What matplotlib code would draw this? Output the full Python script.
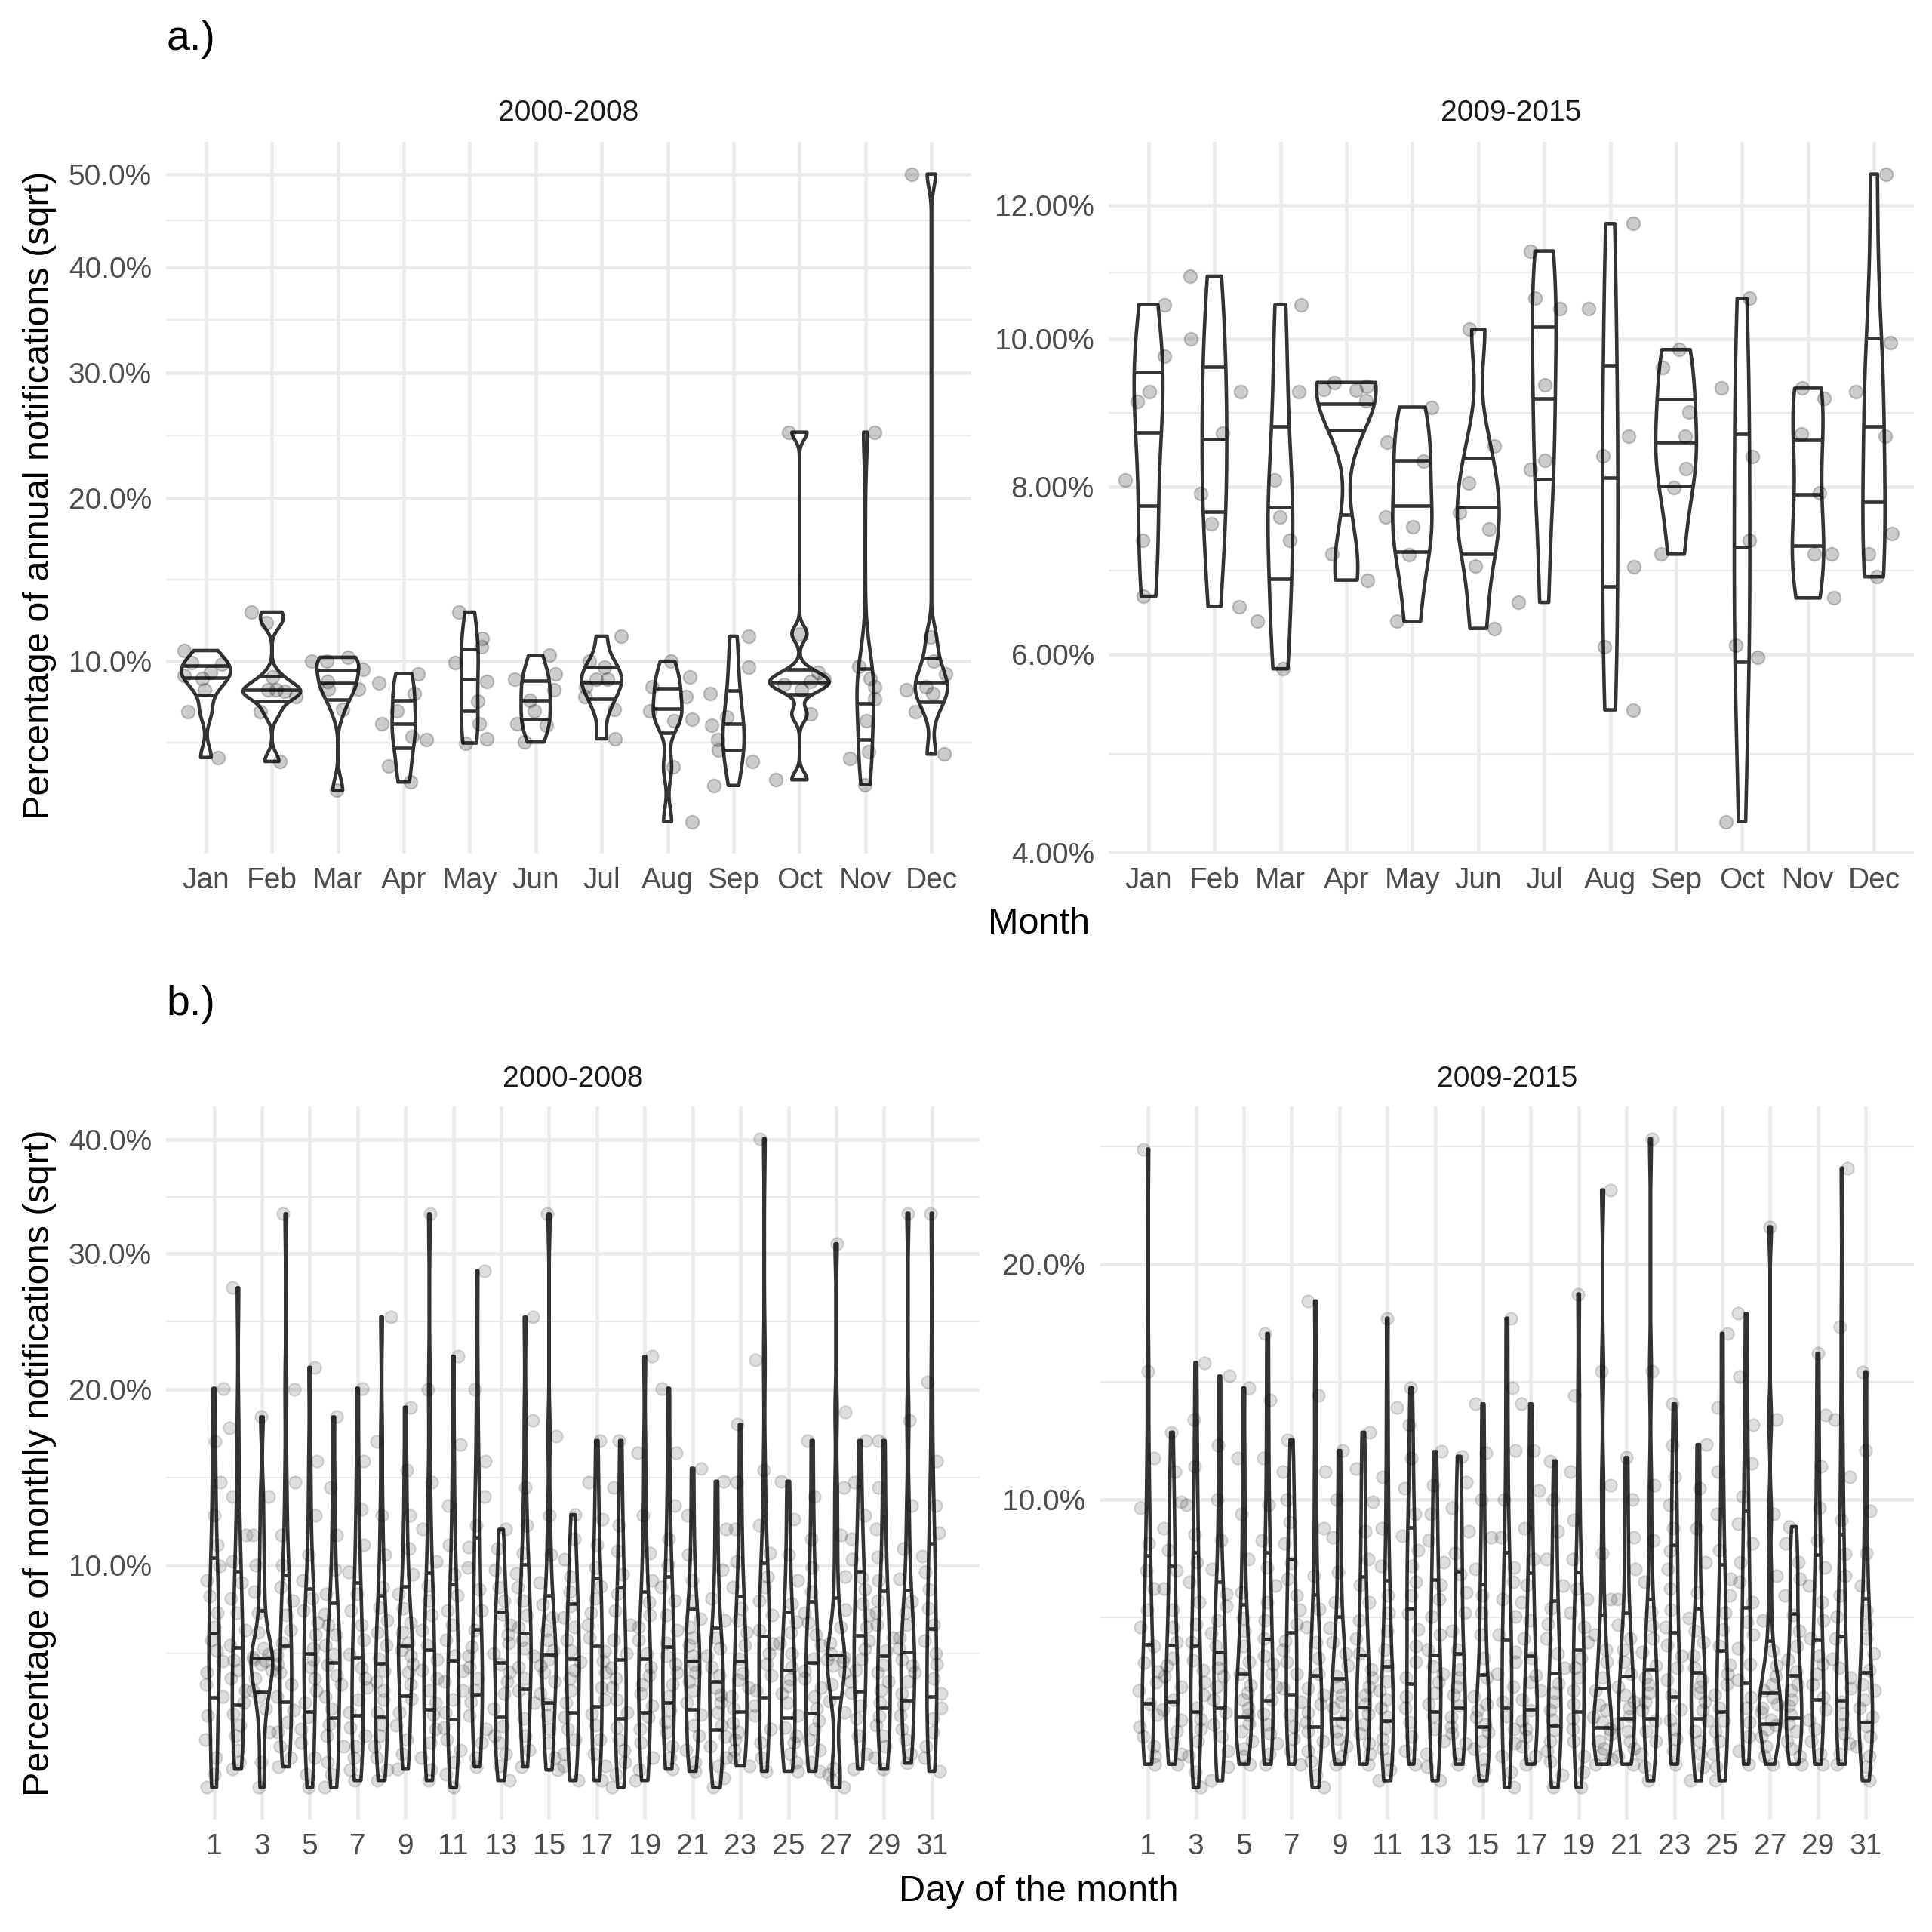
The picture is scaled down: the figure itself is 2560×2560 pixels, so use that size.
import numpy as np
import matplotlib
matplotlib.use("Agg")
import matplotlib.pyplot as plt

plt.rcParams['font.family'] = ['Liberation Sans', 'DejaVu Sans']

# ---------------- data ----------------
months = ['Jan', 'Feb', 'Mar', 'Apr', 'May', 'Jun', 'Jul', 'Aug', 'Sep', 'Oct', 'Nov', 'Dec']
periods = ['2000-2008', '2009-2015']
days = list(range(1, 32))
day_tick_labels = [1, 3, 5, 7, 9, 11, 13, 15, 17, 19, 21, 23, 25, 27, 29, 31]

# percentage of annual notifications, one list per month (one value per year)
annual_2000_2008 = [
    [10.55, 9.93, 9.85, 9.45, 9.30, 9.14, 8.59, 7.60, 5.71],
    [12.65, 12.05, 9.21, 8.59, 8.59, 8.52, 8.30, 7.60, 5.56],
    [10.20, 10.00, 10.00, 9.57, 9.00, 8.63, 8.63, 7.71, 4.52],
    [9.38, 8.91, 8.41, 7.64, 7.08, 6.55, 6.42, 5.38, 4.81],
    [12.65, 11.18, 10.75, 9.93, 8.98, 8.08, 7.08, 6.45, 6.28],
    [10.30, 9.38, 9.09, 8.59, 8.12, 7.64, 7.08, 7.02, 6.32],
    [11.31, 10.00, 9.69, 9.09, 9.09, 8.75, 8.30, 7.71, 6.45],
    [10.00, 9.21, 8.75, 8.30, 7.64, 7.26, 7.22, 5.35, 3.52],
    [11.31, 9.69, 8.41, 7.37, 7.02, 6.42, 5.99, 5.56, 4.69],
    [25.00, 11.44, 9.45, 9.09, 8.98, 8.86, 8.59, 7.49, 4.89],
    [25.00, 9.73, 9.16, 8.75, 8.19, 7.22, 5.94, 5.66, 4.72],
    [50.00, 11.26, 10.00, 9.38, 8.75, 8.59, 8.41, 7.60, 5.84],
]
annual_2009_2015 = [
    [10.50, 9.76, 9.26, 9.13, 8.09, 7.33, 6.66],
    [10.92, 10.00, 9.26, 8.70, 7.91, 7.53, 6.54],
    [10.50, 9.26, 8.09, 7.62, 7.33, 6.37, 5.84],
    [9.39, 9.34, 9.29, 9.28, 9.14, 7.16, 6.85],
    [9.05, 8.58, 8.33, 7.62, 7.50, 7.15, 6.37],
    [10.14, 8.53, 8.05, 7.67, 7.47, 7.02, 6.29],
    [11.30, 10.59, 10.44, 9.36, 8.34, 8.22, 6.59],
    [11.72, 10.44, 8.66, 8.40, 7.01, 6.08, 5.40],
    [9.85, 9.60, 8.98, 8.66, 8.23, 7.99, 7.16],
    [10.59, 9.31, 8.39, 7.33, 6.10, 5.97, 4.29],
    [9.31, 9.17, 8.69, 7.92, 7.16, 7.16, 6.64],
    [12.50, 9.95, 9.26, 8.66, 7.41, 7.16, 6.89],
]

# percentage of monthly notifications, one list per day of the month (estimated)
monthly_2000_2008 = [
    [2.29, 2.6, 3.0, 3.5, 4.2, 4.79, 5.2, 5.6, 6.0, 6.4, 6.82, 7.3, 7.9, 8.6, 9.3, 9.97, 11.0, 12.5, 14.3, 16.7, 20.06],
    [2.72, 2.9, 3.2, 3.6, 3.9, 4.25, 4.6, 5.0, 5.4, 5.7, 6.04, 6.6, 7.2, 7.9, 8.5, 9.21, 10.2, 11.5, 13.5, 17.5, 27.3],
    [2.29, 2.9, 3.7, 4.4, 4.8, 4.99, 5.4, 5.7, 5.9, 6.0, 6.07, 6.15, 6.25, 6.5, 7.1, 7.9, 8.8, 10.0, 11.5, 13.5, 18.2],
    [2.78, 3.0, 3.3, 3.7, 4.0, 4.37, 4.8, 5.2, 5.6, 5.9, 6.24, 6.7, 7.2, 7.8, 8.4, 9.0, 10.0, 11.5, 14.3, 20.0, 33.35],
    [2.29, 2.6, 3.0, 3.4, 3.8, 4.15, 4.6, 5.0, 5.4, 5.8, 6.07, 6.5, 7.0, 7.5, 8.0, 8.5, 9.3, 10.5, 12.5, 15.5, 21.47],
    [2.29, 2.6, 2.9, 3.3, 3.6, 3.93, 4.4, 4.8, 5.2, 5.5, 5.87, 6.25, 6.6, 7.0, 7.4, 7.85, 8.7, 9.8, 11.5, 14.0, 18.2],
    [2.45, 2.7, 3.0, 3.3, 3.6, 3.84, 4.3, 4.7, 5.1, 5.4, 5.76, 6.25, 6.8, 7.4, 8.0, 8.7, 9.7, 11.0, 12.8, 15.5, 20.06],
    [2.45, 2.7, 3.0, 3.3, 3.6, 3.93, 4.3, 4.7, 5.0, 5.3, 5.67, 6.1, 6.6, 7.1, 7.6, 8.14, 9.0, 10.5, 12.5, 16.7, 25.08],
    [2.72, 3.1, 3.5, 3.9, 4.3, 4.72, 5.2, 5.6, 5.9, 6.2, 6.42, 6.7, 7.1, 7.5, 8.1, 8.7, 9.6, 10.8, 12.5, 15.0, 18.82],
    [2.45, 2.7, 3.0, 3.4, 3.8, 4.21, 4.6, 5.0, 5.4, 5.7, 6.07, 6.6, 7.2, 7.8, 8.4, 9.09, 10.2, 11.8, 14.3, 20.0, 33.35],
    [2.29, 2.6, 2.9, 3.2, 3.5, 3.84, 4.3, 4.7, 5.0, 5.3, 5.66, 6.2, 6.8, 7.4, 8.0, 8.64, 9.6, 11.0, 13.0, 16.5, 22.24],
    [2.78, 3.0, 3.4, 3.8, 4.2, 4.61, 5.0, 5.4, 5.8, 6.2, 6.56, 7.2, 8.0, 8.9, 9.9, 10.89, 12.0, 13.5, 15.5, 20.0, 28.64],
    [2.45, 2.8, 3.1, 3.4, 3.6, 3.88, 4.4, 4.9, 5.3, 5.6, 5.91, 6.3, 6.7, 7.0, 7.4, 7.85, 8.4, 9.0, 9.8, 10.8, 11.77],
    [2.78, 3.2, 3.6, 4.1, 4.6, 4.99, 5.4, 5.8, 6.2, 6.5, 6.82, 7.3, 7.8, 8.4, 9.0, 9.61, 10.6, 12.0, 14.0, 18.0, 25.08],
    [2.70, 3.0, 3.4, 3.8, 4.2, 4.54, 4.9, 5.3, 5.6, 5.85, 6.07, 6.4, 6.8, 7.2, 7.7, 8.24, 9.2, 10.5, 12.5, 17.0, 33.35],
    [2.45, 2.8, 3.1, 3.5, 3.8, 4.15, 4.6, 5.0, 5.4, 5.7, 5.99, 6.4, 6.8, 7.3, 7.7, 8.2, 8.8, 9.5, 10.3, 11.3, 12.53],
    [2.45, 2.8, 3.1, 3.5, 3.9, 4.25, 4.7, 5.1, 5.6, 6.0, 6.38, 6.9, 7.4, 7.9, 8.5, 9.05, 9.9, 11.0, 12.3, 14.3, 16.73],
    [2.29, 2.6, 2.9, 3.2, 3.5, 3.84, 4.3, 4.7, 5.1, 5.4, 5.76, 6.3, 6.8, 7.4, 8.0, 8.7, 9.6, 10.7, 12.0, 14.0, 16.73],
    [2.45, 2.7, 3.0, 3.4, 3.8, 4.14, 4.5, 4.9, 5.2, 5.5, 5.79, 6.3, 6.8, 7.3, 7.8, 8.34, 9.3, 10.6, 12.5, 16.0, 22.24],
    [2.72, 3.0, 3.3, 3.7, 4.0, 4.37, 4.8, 5.2, 5.6, 5.9, 6.21, 6.7, 7.2, 7.8, 8.4, 9.0, 10.0, 11.3, 13.0, 16.0, 20.06],
    [2.67, 2.9, 3.2, 3.6, 3.9, 4.22, 4.6, 5.0, 5.3, 5.6, 5.87, 6.2, 6.6, 6.9, 7.3, 7.66, 8.4, 9.3, 10.5, 12.5, 15.09],
    [2.29, 2.5, 2.8, 3.0, 3.3, 3.57, 3.9, 4.3, 4.6, 4.85, 5.1, 5.5, 5.8, 6.2, 6.5, 6.91, 7.6, 8.5, 9.8, 11.8, 14.35],
    [2.80, 3.0, 3.2, 3.5, 3.7, 3.97, 4.4, 4.8, 5.1, 5.35, 5.59, 6.1, 6.6, 7.1, 7.6, 8.08, 9.0, 10.2, 11.8, 14.3, 17.73],
    [2.67, 3.0, 3.4, 3.8, 4.2, 4.51, 5.0, 5.5, 5.9, 6.3, 6.65, 7.2, 7.8, 8.4, 9.0, 9.5, 10.6, 12.0, 15.0, 22.0, 40.09],
    [2.67, 2.9, 3.1, 3.4, 3.6, 3.84, 4.2, 4.6, 4.9, 5.15, 5.38, 5.8, 6.3, 6.7, 7.1, 7.52, 8.3, 9.3, 10.5, 12.3, 14.35],
    [2.67, 2.9, 3.2, 3.5, 3.8, 4.04, 4.4, 4.8, 5.1, 5.4, 5.66, 6.1, 6.6, 7.0, 7.5, 7.9, 8.8, 9.9, 11.3, 13.5, 16.73],
    [2.29, 2.45, 2.6, 2.75, 4.3, 4.64, 5.2, 5.6, 5.85, 6.0, 6.07, 6.15, 6.3, 6.7, 7.3, 8.04, 9.5, 11.5, 14.0, 18.5, 30.82],
    [2.72, 3.1, 3.6, 4.1, 4.5, 4.91, 5.3, 5.7, 6.1, 6.45, 6.77, 7.3, 7.8, 8.3, 8.9, 9.46, 10.3, 11.3, 12.5, 14.3, 16.73],
    [2.72, 3.0, 3.3, 3.6, 3.9, 4.18, 4.6, 5.0, 5.3, 5.6, 5.87, 6.4, 6.9, 7.4, 7.9, 8.4, 9.3, 10.4, 11.8, 14.0, 16.73],
    [2.87, 3.1, 3.5, 3.8, 4.2, 4.54, 4.9, 5.3, 5.6, 5.85, 6.07, 6.5, 6.9, 7.4, 7.9, 8.37, 9.4, 10.8, 13.0, 18.0, 33.4],
    [2.67, 3.0, 3.3, 3.7, 4.1, 4.42, 4.9, 5.4, 5.9, 6.3, 6.77, 7.4, 8.1, 8.9, 9.7, 10.44, 11.6, 13.0, 15.5, 20.5, 33.4],
]
monthly_2009_2015 = [
    [2.85, 3.0, 3.2, 3.4, 3.6, 3.86, 4.1, 4.4, 4.6, 4.85, 5.08, 5.5, 6.0, 6.5, 7.1, 7.65, 8.5, 9.7, 11.5, 15.0, 26.13],
    [2.85, 3.05, 3.25, 3.5, 3.75, 3.97, 4.2, 4.5, 4.75, 5.0, 5.2, 5.6, 6.0, 6.5, 7.1, 7.65, 8.3, 9.0, 9.9, 11.0, 12.5],
    [2.43, 2.7, 3.0, 3.3, 3.55, 3.76, 4.0, 4.3, 4.6, 4.9, 5.14, 5.6, 6.1, 6.7, 7.3, 7.92, 8.8, 9.8, 11.2, 13.0, 15.39],
    [2.55, 2.8, 3.1, 3.4, 3.65, 3.9, 4.2, 4.5, 4.75, 4.95, 5.17, 5.5, 5.85, 6.2, 6.6, 6.95, 7.7, 8.6, 10.0, 12.0, 14.81],
    [2.85, 3.0, 3.15, 3.3, 3.5, 3.66, 3.85, 4.0, 4.2, 4.35, 4.52, 4.8, 5.1, 5.5, 5.9, 6.25, 7.0, 8.0, 9.5, 11.5, 14.3],
    [2.85, 3.05, 3.25, 3.45, 3.65, 3.88, 4.2, 4.5, 4.8, 5.05, 5.26, 5.7, 6.2, 6.7, 7.2, 7.75, 8.6, 9.8, 11.5, 13.8, 16.69],
    [2.85, 3.1, 3.35, 3.6, 3.85, 4.14, 4.45, 4.8, 5.1, 5.4, 5.64, 6.1, 6.5, 6.9, 7.4, 7.89, 8.5, 9.2, 10.0, 11.0, 12.2],
    [2.43, 2.65, 2.9, 3.1, 3.3, 3.51, 3.7, 3.9, 4.1, 4.3, 4.46, 4.8, 5.2, 5.6, 6.0, 6.51, 7.5, 9.0, 11.0, 14.0, 18.2],
    [2.85, 3.0, 3.2, 3.35, 3.5, 3.7, 3.85, 4.0, 4.15, 4.3, 4.5, 4.75, 5.0, 5.3, 5.6, 5.99, 6.7, 7.6, 8.7, 10.0, 11.79],
    [2.85, 3.05, 3.25, 3.45, 3.65, 3.88, 4.1, 4.3, 4.5, 4.7, 4.91, 5.3, 5.7, 6.2, 6.7, 7.21, 8.0, 8.9, 9.9, 11.1, 12.5],
    [2.55, 2.75, 2.95, 3.15, 3.35, 3.56, 3.8, 4.0, 4.2, 4.4, 4.61, 5.0, 5.4, 5.9, 6.4, 6.91, 7.8, 9.0, 10.8, 13.5, 17.39],
    [2.85, 3.1, 3.4, 3.7, 4.0, 4.27, 4.7, 5.1, 5.5, 5.95, 6.38, 6.9, 7.3, 7.8, 8.3, 8.75, 9.5, 10.4, 11.5, 12.8, 14.3],
    [2.55, 2.8, 3.05, 3.3, 3.55, 3.83, 4.1, 4.35, 4.6, 4.8, 4.99, 5.4, 5.8, 6.3, 6.8, 7.21, 7.9, 8.6, 9.5, 10.5, 11.75],
    [2.85, 3.05, 3.25, 3.45, 3.6, 3.8, 4.05, 4.3, 4.5, 4.7, 4.91, 5.4, 5.9, 6.4, 7.0, 7.53, 8.2, 8.9, 9.7, 10.6, 11.57],
    [2.55, 2.75, 2.95, 3.15, 3.3, 3.49, 3.65, 3.8, 3.95, 4.1, 4.27, 4.7, 5.2, 5.8, 6.4, 6.91, 7.7, 8.7, 10.0, 11.7, 13.64],
    [2.43, 2.7, 3.0, 3.25, 3.55, 3.83, 4.15, 4.5, 4.8, 5.1, 5.34, 5.8, 6.3, 6.8, 7.3, 7.75, 8.7, 10.0, 11.8, 14.3, 17.39],
    [2.85, 3.0, 3.2, 3.4, 3.55, 3.73, 3.95, 4.2, 4.4, 4.6, 4.77, 5.2, 5.7, 6.2, 6.7, 7.21, 8.0, 9.0, 10.3, 11.8, 13.64],
    [2.43, 2.65, 2.9, 3.1, 3.3, 3.54, 3.75, 3.95, 4.15, 4.35, 4.57, 4.95, 5.3, 5.7, 6.1, 6.53, 7.2, 8.0, 8.9, 10.0, 11.4],
    [2.43, 2.7, 3.0, 3.3, 3.55, 3.78, 4.1, 4.4, 4.7, 4.95, 5.2, 5.6, 6.0, 6.4, 6.8, 7.11, 8.0, 9.3, 11.0, 14.0, 18.53],
    [2.85, 2.95, 3.05, 3.15, 3.3, 3.44, 3.55, 3.7, 3.8, 3.95, 4.07, 4.4, 4.7, 5.1, 5.4, 5.81, 6.8, 8.2, 10.5, 15.0, 23.86],
    [2.85, 3.0, 3.15, 3.3, 3.5, 3.66, 3.82, 4.0, 4.15, 4.3, 4.49, 4.8, 5.1, 5.4, 5.7, 6.06, 6.8, 7.7, 8.7, 10.0, 11.52],
    [2.55, 2.8, 3.05, 3.3, 3.5, 3.73, 3.95, 4.15, 4.35, 4.55, 4.71, 5.0, 5.35, 5.7, 6.05, 6.42, 7.3, 8.6, 10.5, 15.0, 26.71],
    [2.85, 3.1, 3.35, 3.55, 3.75, 3.97, 4.3, 4.65, 4.95, 5.25, 5.52, 6.0, 6.5, 7.1, 7.7, 8.26, 9.0, 9.8, 10.8, 12.0, 13.64],
    [2.55, 2.8, 3.05, 3.3, 3.5, 3.73, 3.95, 4.15, 4.35, 4.5, 4.65, 4.95, 5.25, 5.6, 5.9, 6.25, 7.0, 7.9, 9.0, 10.4, 12.02],
    [2.55, 2.8, 3.05, 3.3, 3.5, 3.73, 4.0, 4.3, 4.55, 4.8, 5.03, 5.5, 5.95, 6.4, 6.9, 7.39, 8.3, 9.5, 11.0, 13.5, 16.69],
    [2.85, 3.1, 3.4, 3.7, 4.0, 4.25, 4.65, 5.05, 5.45, 5.8, 6.15, 6.7, 7.3, 7.9, 8.5, 9.17, 10.1, 11.3, 12.8, 14.8, 17.61],
    [2.85, 3.0, 3.2, 3.4, 3.55, 3.63, 3.75, 3.9, 4.0, 4.1, 4.25, 4.4, 4.55, 4.75, 5.0, 5.38, 6.2, 7.5, 9.5, 13.0, 21.89],
    [2.85, 3.0, 3.15, 3.3, 3.5, 3.66, 3.85, 4.05, 4.2, 4.4, 4.54, 4.85, 5.15, 5.5, 5.9, 6.34, 6.9, 7.4, 7.9, 8.5, 9.06],
    [2.85, 3.05, 3.3, 3.55, 3.75, 3.97, 4.25, 4.55, 4.8, 5.05, 5.26, 5.7, 6.2, 6.7, 7.2, 7.75, 8.6, 9.7, 11.2, 13.2, 15.8],
    [2.85, 3.05, 3.25, 3.45, 3.65, 3.88, 4.15, 4.45, 4.7, 4.95, 5.18, 5.7, 6.3, 6.9, 7.5, 8.18, 9.3, 10.8, 13.0, 17.0, 25.06],
    [2.55, 2.8, 3.0, 3.2, 3.4, 3.61, 3.8, 4.0, 4.2, 4.4, 4.54, 4.9, 5.3, 5.7, 6.1, 6.47, 7.2, 8.2, 9.6, 11.8, 14.99],
]

yticks_annual_2000_2008 = [10, 20, 30, 40, 50]
yticks_annual_2009_2015 = [4, 6, 8, 10, 12]
yticks_monthly_2000_2008 = [10, 20, 30, 40]
yticks_monthly_2009_2015 = [10, 20]

# ---------------- style ----------------
GRID = '#EBEBEB'
LINE = '#333333'
TXT = '#4D4D4D'
LW = 3.3
TICK_FS = 28
TITLE_FS = 35
H = 1568.0

def fwd(v):
    return np.sqrt(np.clip(v, 0, None))

def inv(s):
    return np.square(s)

def nrd0(x):
    hi = np.std(x, ddof=1)
    q75, q25 = np.percentile(x, [75, 25])
    lo = min(hi, (q75 - q25) / 1.34)
    if not lo:
        lo = hi or abs(x[0]) or 1.0
    return 0.9 * lo * len(x) ** (-0.2)

def violin_stats(vals, adjust):
    s = np.sqrt(np.asarray(vals, float))
    bw = nrd0(s) * adjust
    grid = np.linspace(s.min(), s.max(), 512)
    dens = np.exp(-0.5 * ((grid[:, None] - s[None, :]) / bw) ** 2).sum(1) / (len(s) * bw * np.sqrt(2 * np.pi))
    return grid, dens

def minor_breaks(major_sqrt, lim):
    b = list(major_sqrt)
    bd = b[1] - b[0]
    if lim[0] < b[0]:
        b = [b[0] - bd] + b
    if lim[1] > b[-1]:
        b = b + [b[-1] + bd]
    out = []
    for a, c in zip(b[:-1], b[1:]):
        out.append((a + c) / 2)
    return [m for m in out if lim[0] <= m <= lim[1]]

def panel(ax, groups, positions, adjust, yticks, fmt, xticks, xlabels, xlim, seed, alpha, psize):
    ax.set_facecolor('white')
    allv = np.sqrt(np.concatenate([np.asarray(g, float) for g in groups]))
    lo, hi = allv.min(), allv.max()
    rng_ = hi - lo
    lim = (lo - 0.05 * rng_, hi + 0.05 * rng_)
    ax.set_yscale('function', functions=(fwd, inv))
    ax.set_ylim(inv(lim[0]), inv(lim[1]))
    ax.set_xlim(*xlim)

    major_s = [np.sqrt(t) for t in yticks]
    for m in minor_breaks(major_s, lim):
        ax.axhline(inv(m), color=GRID, lw=LW / 2, zorder=0)
    for t in yticks:
        ax.axhline(t, color=GRID, lw=LW, zorder=0)
    for t in xticks:
        ax.axvline(t, color=GRID, lw=LW, zorder=0)

    stats = [violin_stats(g, adjust) for g in groups]
    dmax = max(d.max() for _, d in stats)
    for pos, (grid, dens) in zip(positions, stats):
        hw = dens / dmax * 0.9 / 2
        xs = np.concatenate([pos - hw, (pos + hw)[::-1]])
        ys = inv(np.concatenate([grid, grid[::-1]]))
        ax.fill(xs, ys, facecolor='white', edgecolor=LINE, lw=LW, zorder=2, joinstyle='round')
        cum = np.cumsum(dens)
        cum = cum / cum[-1]
        for q in (0.25, 0.5, 0.75):
            yq = np.interp(q, cum, grid)
            h = np.interp(yq, grid, hw)
            ax.plot([pos - h, pos + h], [inv(yq)] * 2, color=LINE, lw=LW, zorder=3, solid_capstyle='butt')

    rng = np.random.default_rng(seed)
    for pos, g in zip(positions, groups):
        xj = pos + rng.uniform(-0.4, 0.4, len(g))
        ax.scatter(xj, g, s=psize, facecolor='black', edgecolor='black', linewidths=1.6,
                   alpha=alpha, zorder=4)

    ax.set_yticks(yticks)
    ax.set_yticklabels([fmt.format(t) for t in yticks])
    ax.set_yticks([], minor=True)
    ax.set_xticks(xticks)
    ax.set_xticklabels(xlabels)
    ax.tick_params(axis='both', length=0, labelsize=TICK_FS, labelcolor=TXT)
    ax.tick_params(axis='y', pad=14)
    ax.tick_params(axis='x', pad=13)
    for sp in ax.spines.values():
        sp.set_visible(False)

fig = plt.figure(figsize=(25.6, 25.6), dpi=100)
fig.patch.set_facecolor('white')

def rect(x0, y0, x1, y1):
    return [x0 / H, 1 - y1 / H, (x1 - x0) / H, (y1 - y0) / H]

month_pos = list(range(1, 13))
ax_al = fig.add_axes(rect(135, 115, 788, 693))
ax_ar = fig.add_axes(rect(900, 115, 1553, 693))
ax_bl = fig.add_axes(rect(135, 898, 795, 1477))
ax_br = fig.add_axes(rect(893, 898, 1553, 1477))

panel(ax_al, annual_2000_2008, month_pos, 1.0, yticks_annual_2000_2008, '{:.1f}%',
      month_pos, months, (0.4, 12.6), 3, 0.2, 160)
panel(ax_ar, annual_2009_2015, month_pos, 1.0, yticks_annual_2009_2015, '{:.2f}%',
      month_pos, months, (0.4, 12.6), 5, 0.2, 160)
xl_days = (1 - 0.45 - 0.05 * 30.9, 31 + 0.45 + 0.05 * 30.9)
panel(ax_bl, monthly_2000_2008, days, 0.75, yticks_monthly_2000_2008, '{:.1f}%',
      day_tick_labels, [str(d) for d in day_tick_labels], xl_days, 11, 0.13, 140)
panel(ax_br, monthly_2009_2015, days, 0.75, yticks_monthly_2009_2015, '{:.1f}%',
      day_tick_labels, [str(d) for d in day_tick_labels], xl_days, 13, 0.13, 140)

# texts
fig.text(135 / H, 1 - 32 / H, 'a.)', fontsize=40, ha='left', va='center', color='black')
fig.text(135 / H, 1 - 815 / H, 'b.)', fontsize=40, ha='left', va='center', color='black')
fig.text(461.5 / H, 1 - 92 / H, periods[0], fontsize=TICK_FS, ha='center', va='center', color='#1A1A1A')
fig.text(1226.5 / H, 1 - 92 / H, periods[1], fontsize=TICK_FS, ha='center', va='center', color='#1A1A1A')
fig.text(465 / H, 1 - 876 / H, periods[0], fontsize=TICK_FS, ha='center', va='center', color='#1A1A1A')
fig.text(1223 / H, 1 - 876 / H, periods[1], fontsize=TICK_FS, ha='center', va='center', color='#1A1A1A')
fig.text(843 / H, 1 - 750 / H, 'Month', fontsize=TITLE_FS, ha='center', va='center', color='black')
fig.text(843 / H, 1 - 1535 / H, 'Day of the month', fontsize=TITLE_FS, ha='center', va='center', color='black')
fig.text(32 / H, 1 - 402 / H, 'Percentage of annual notifications (sqrt)', fontsize=TITLE_FS,
         rotation=90, ha='center', va='center', color='black')
fig.text(32 / H, 1 - 1187 / H, 'Percentage of monthly notifications (sqrt)', fontsize=TITLE_FS,
         rotation=90, ha='center', va='center', color='black')

fig.savefig('out.png', dpi=100, facecolor='white')
